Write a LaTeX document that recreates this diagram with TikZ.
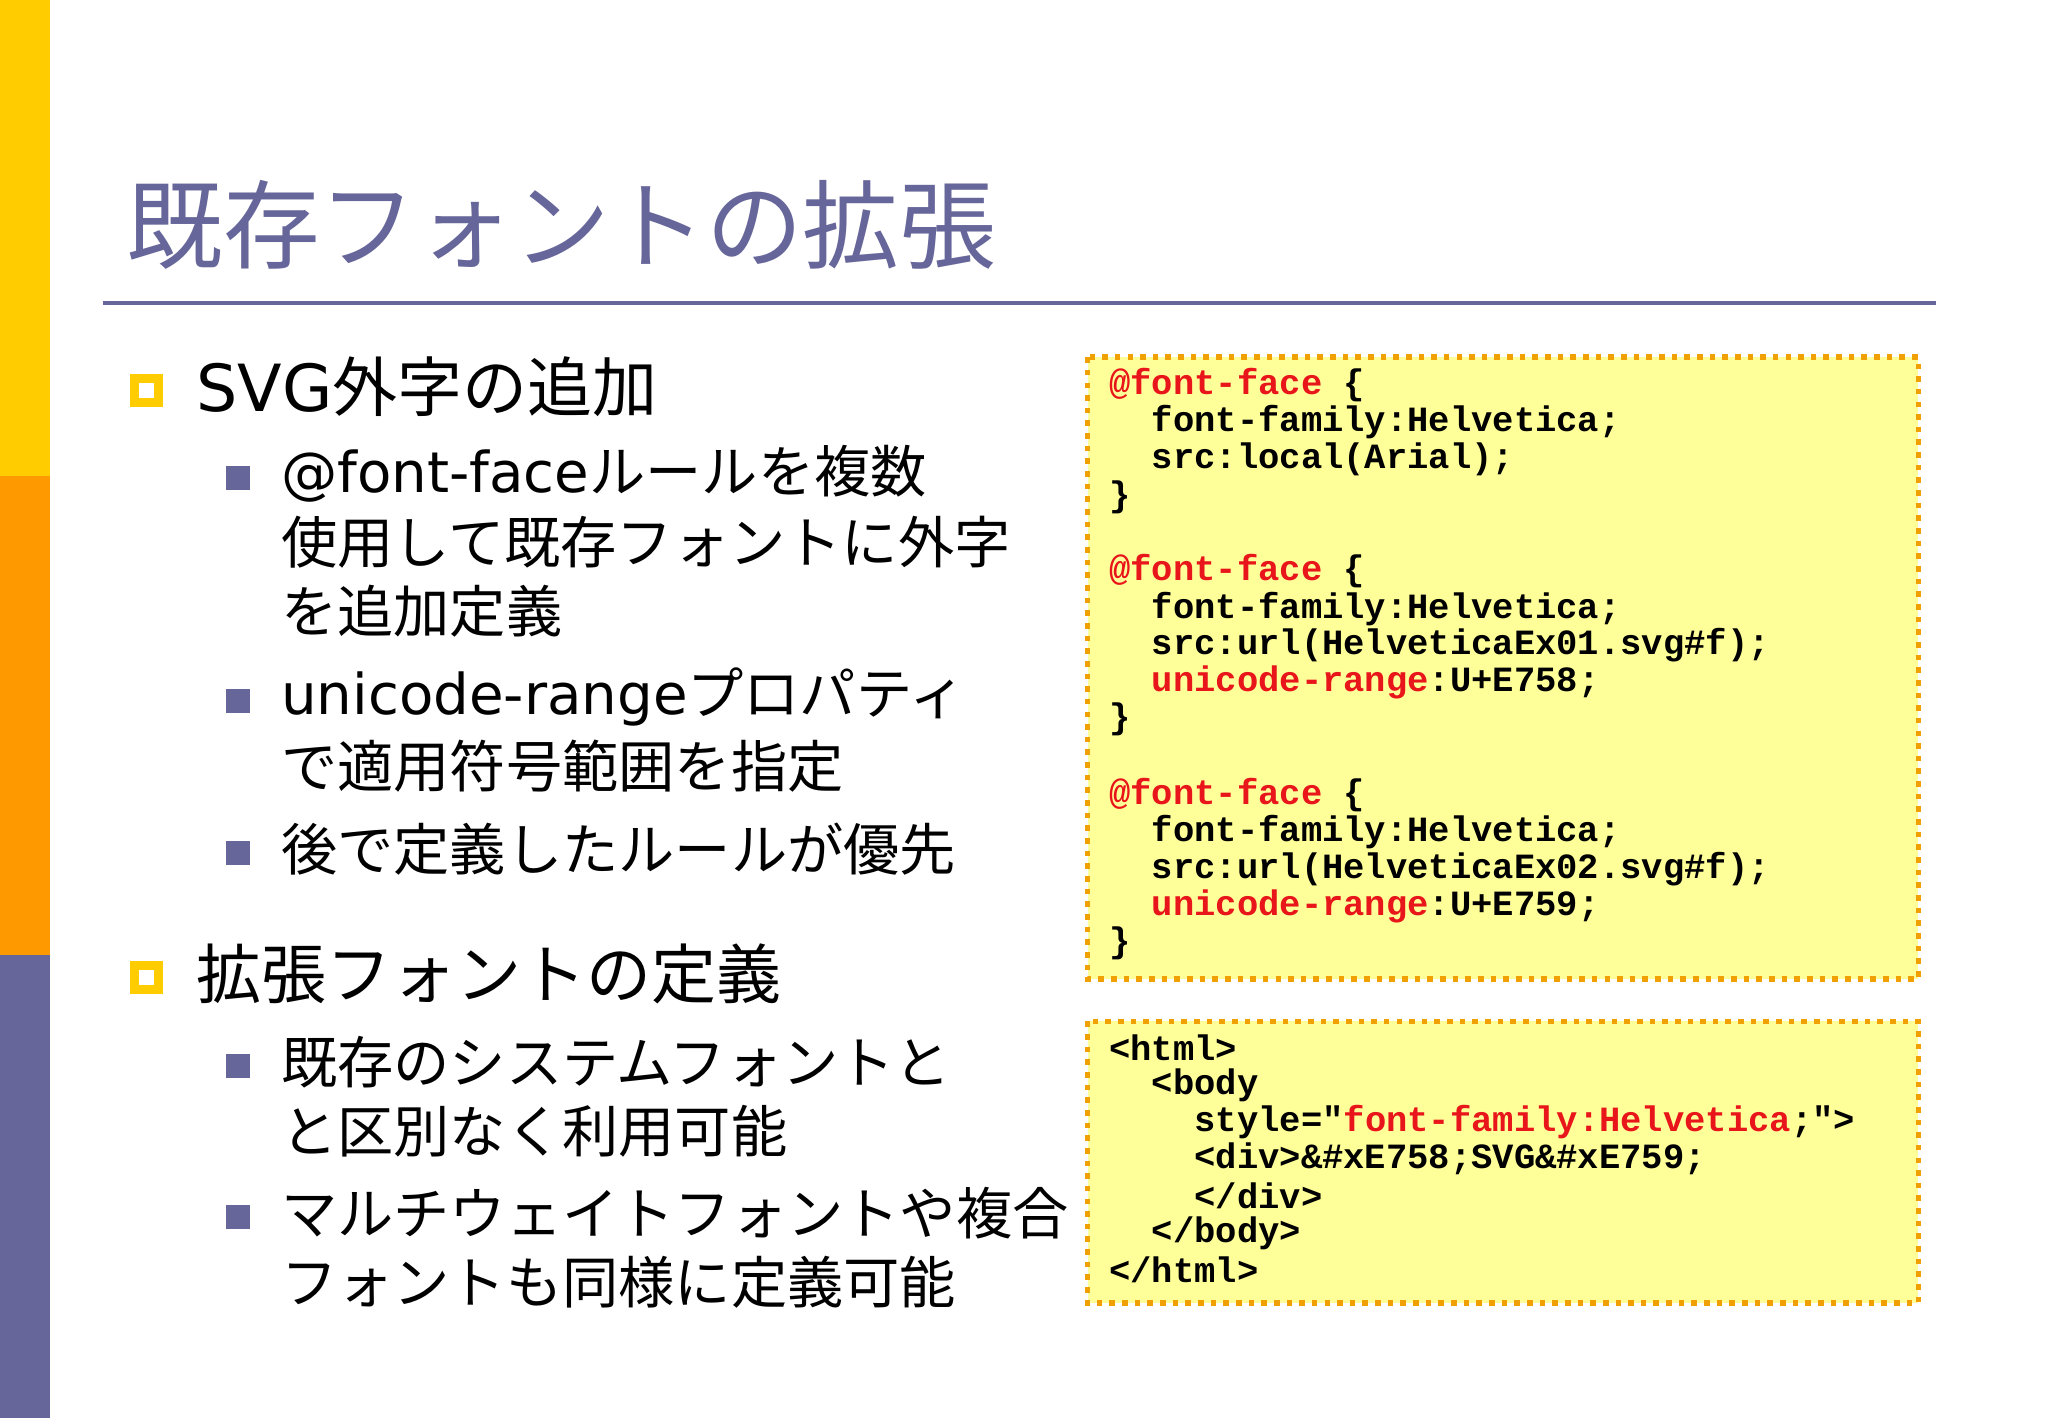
\documentclass[tikz,border=0pt]{standalone}
\usepackage{fontspec}
\setmainfont{Noto Sans CJK JP}
\newfontfamily\lat{DejaVu Sans}
\newfontfamily\codef{Liberation Mono}
\definecolor{ttl}{HTML}{66669A}
\definecolor{ylw}{HTML}{FFCC00}
\definecolor{org}{HTML}{FF9900}
\definecolor{codebg}{HTML}{FFFF99}
\definecolor{cred}{HTML}{E8161B}
\definecolor{dots}{HTML}{F0A000}
\tikzset{
 body/.style={anchor=west,inner sep=0pt,font=\fontsize{16}{19}\selectfont},
 head/.style={anchor=west,inner sep=0pt,font=\fontsize{18.5}{21}\selectfont},
 code/.style={anchor=west,inner sep=0pt,font=\codef\bfseries\fontsize{10.1}{11}\selectfont},
 codebox/.style={draw=dots,fill=codebg,line width=1.6pt,dotted},
 lvone/.style={draw=ylw,line width=2.6pt,minimum size=0.24cm,inner sep=0pt},
 lvtwo/.style={fill=ttl,minimum size=0.24cm,inner sep=0pt}
}
\begin{document}
\begin{tikzpicture}[x=0.01323cm,y=-0.01323cm]
\useasboundingbox (0,0) rectangle (1548,1072);
\fill[white] (0,0) rectangle (1548,1072);
\fill[ylw] (0,0) rectangle (38,360);
\fill[org] (0,360) rectangle (38,722);
\fill[ttl] (0,722) rectangle (38,1072);
\node[anchor=west,inner sep=0pt,text=ttl,font=\fontsize{27.5}{30}\selectfont] (title) at (95,170) {既存フォントの拡張};
\draw[ttl,line width=1.3pt] (78,229) -- (1463,229);
% bullets
\node[lvone] (b1) at (111,295) {};
\node[head] (t1) at (148,292) {{\lat SVG}外字の追加};
\node[lvtwo] (s1) at (180,361) {};
\node[body] (t11) at (212,358) {{\lat @font-face}ルールを複数};
\node[body] (t12) at (212,410) {使用して既存フォントに外字};
\node[body] (t13) at (212,462) {を追加定義};
\node[lvtwo] (s2) at (180,530) {};
\node[body] (t21) at (212,527) {{\lat unicode-range}プロパティ};
\node[body] (t22) at (212,579) {で適用符号範囲を指定};
\node[lvtwo] (s3) at (180,645) {};
\node[body] (t31) at (212,642) {後で定義したルールが優先};
\node[lvone] (b2) at (111,739) {};
\node[head] (t2) at (148,736) {拡張フォントの定義};
\node[lvtwo] (s4) at (180,806) {};
\node[body] (t41) at (212,803) {既存のシステムフォントと};
\node[body] (t42) at (212,855) {と区別なく利用可能};
\node[lvtwo] (s5) at (180,920) {};
\node[body] (t51) at (212,917) {マルチウェイトフォントや複合};
\node[body] (t52) at (212,969) {フォントも同様に定義可能};
% code boxes
\draw[codebox] (822,270) rectangle (1450,740);
\draw[codebox] (822,772) rectangle (1450,985);
\node[code] (c1) at (838,291) {\textcolor{cred}{@font-face} \{};
\node[code] (c2) at (838,319) {\ \ font-family:Helvetica;};
\node[code] (c3) at (838,347) {\ \ src:local(Arial);};
\node[code] (c4) at (838,376) {\}};
\node[code] (c5) at (838,432) {\textcolor{cred}{@font-face} \{};
\node[code] (c6) at (838,460) {\ \ font-family:Helvetica;};
\node[code] (c7) at (838,488) {\ \ src:url(HelveticaEx01.svg\#f);};
\node[code] (c8) at (838,516) {\ \ \textcolor{cred}{unicode-range}:U+E758;};
\node[code] (c9) at (838,544) {\}};
\node[code] (c10) at (838,601) {\textcolor{cred}{@font-face} \{};
\node[code] (c11) at (838,629) {\ \ font-family:Helvetica;};
\node[code] (c12) at (838,657) {\ \ src:url(HelveticaEx02.svg\#f);};
\node[code] (c13) at (838,685) {\ \ \textcolor{cred}{unicode-range}:U+E759;};
\node[code] (c14) at (838,713) {\}};
\node[code] (h1) at (838,792) {<html>};
\node[code] (h2) at (838,820) {\ \ <body};
\node[code] (h3) at (838,848) {\ \ \ \ style="\textcolor{cred}{font-family:Helvetica};">};
\node[code] (h4) at (838,876) {\ \ \ \ <div>\&\#xE758;SVG\&\#xE759;};
\node[code] (h5) at (838,904) {\ \ \ \ </div>};
\node[code] (h6) at (838,932) {\ \ </body>};
\node[code] (h7) at (838,960) {</html>};
\end{tikzpicture}
\end{document}
